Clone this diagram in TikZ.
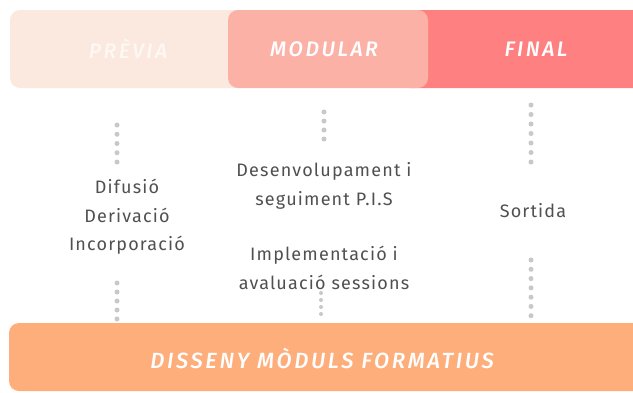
\documentclass[tikz,border=0pt]{standalone}
\usepackage{fontspec}
\setmainfont{Fira Sans}
\newfontfamily\headfont[LetterSpace=12]{Fira Sans Medium Italic}
\newfontfamily\bodyfont[LetterSpace=6.5]{Fira Sans}

\definecolor{previapeach}{HTML}{FBE8DE}
\definecolor{previatext}{HTML}{FEF8F4}
\definecolor{modularpink}{HTML}{FBB1A6}
\definecolor{finalred}{HTML}{FF8080}
\definecolor{bottomorange}{HTML}{FDAE7A}
\definecolor{txtgray}{HTML}{505050}
\definecolor{dotgray}{HTML}{C8C8C8}

\begin{document}
\begin{tikzpicture}[x=1pt,y=-1pt,
    stage/.style={inner sep=0pt, text=white, font=\headfont\fontsize{21}{25}\selectfont},
    item/.style={align=center, inner sep=0pt, text=txtgray, font=\bodyfont\fontsize{18}{28.5}\selectfont},
    dots/.style={draw=dotgray, line width=5pt, line cap=round}]

    % 1. Fix the page to the picture size
    \useasboundingbox (0,0) rectangle (633,392);

    % 2. Stage bars along the top (MODULAR sits over the other two)
    \fill [finalred, rounded corners=10pt] (400,10) rectangle (660,88);
    \fill [previapeach, rounded corners=10pt] (10,10) rectangle (245,88);
    \fill [modularpink, rounded corners=10pt] (228,10) rectangle (428,88);

    % 3. Stage titles
    \node [stage, text=previatext] (previa) at (128,49) {PRÈVIA};
    \node [stage] (modular) at (324,49) {MODULAR};
    \node [stage] (final) at (536,49) {FINAL};

    % 4. Bottom bar
    \fill [bottomorange, rounded corners=10pt] (9,323) rectangle (660,391);
    \node [stage, font=\headfont\fontsize{22}{26}\selectfont] (disseny) at (322,358) {DISSENY MÒDULS FORMATIUS};

    % 5. Texts of each column
    \node [item] (acces) at (127,217) {Difusió\\Derivació\\Incorporació};
    \node [item] (seguiment) at (324,186) {Desenvolupament i\\seguiment P.I.S};
    \node [item] (sessions) at (324,268) {Implementació i\\avaluació sessions};
    \node [item] (sortida) at (533,211) {Sortida};

    % 6. Dotted guides (free ends as coordinates)
    \coordinate (p1) at (117,125);
    \coordinate (p2) at (117,162);
    \coordinate (p3) at (117,283);
    \coordinate (p4) at (117,319);
    \coordinate (m1) at (324,112);
    \coordinate (m2) at (324,148);
    \coordinate (m3) at (321,293);
    \coordinate (m4) at (321,321);
    \coordinate (f1) at (531,105);
    \coordinate (f2) at (531,162);
    \coordinate (f3) at (531,260);
    \coordinate (f4) at (531,325);

    \draw [dots, dash pattern=on 0pt off 9.25pt] (p1) -- (p2);
    \draw [dots, dash pattern=on 0pt off 9pt] (p3) -- (p4);
    \draw [dots, dash pattern=on 0pt off 9pt] (m1) -- (m2);
    \draw [dots, line width=4pt, dash pattern=on 0pt off 7pt] (m3) -- (m4);
    \draw [dots, dash pattern=on 0pt off 9.5pt] (f1) -- (f2);
    \draw [dots, dash pattern=on 0pt off 9.29pt] (f3) -- (f4);

\end{tikzpicture}
\end{document}
